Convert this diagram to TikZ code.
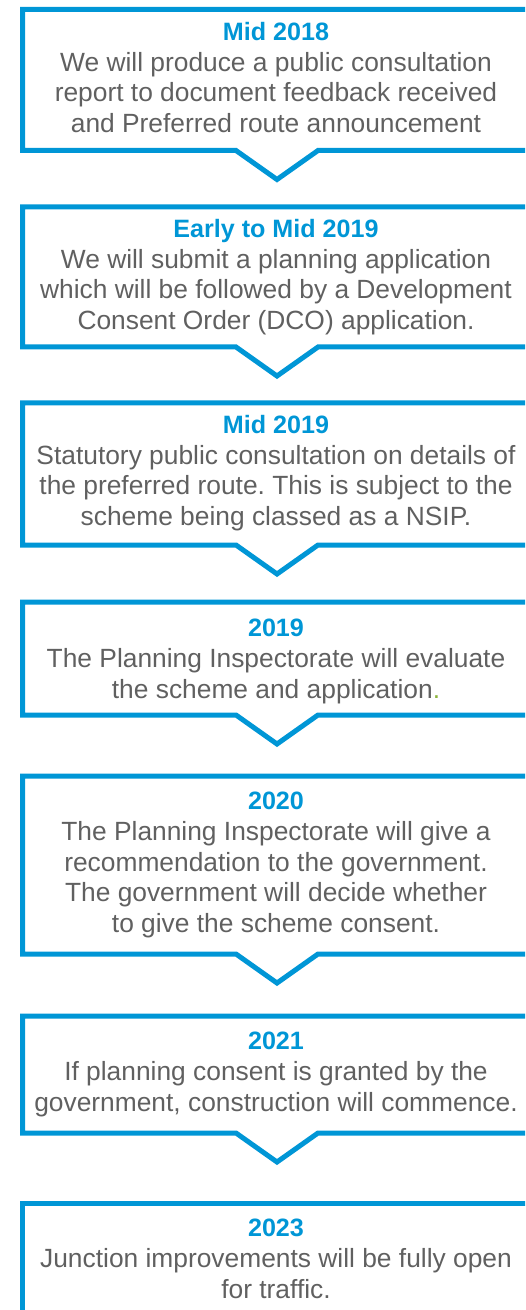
\documentclass[tikz,border=0pt]{standalone}
\usepackage{fontspec}
\setmainfont{Liberation Sans}
\frenchspacing
\definecolor{stepblue}{RGB}{0,150,214}
\definecolor{stepgray}{RGB}{96,96,96}
\definecolor{dotgreen}{RGB}{140,180,60}
\tikzset{
  stepframe/.style={draw=stepblue, line width=0.1cm, miter limit=10},
  steptext/.style={anchor=north, align=center, inner sep=0pt, text=stepgray,
    font=\fontsize{15}{17.4}\selectfont},
}
\newcommand{\steptitle}[1]{{\fontsize{14.3}{17.4}\selectfont\bfseries\color{stepblue}#1}}

\begin{document}
\begin{tikzpicture}[x=0.02cm, y=-0.02cm]
    \clip (0,0) rectangle (525,1310);
    \useasboundingbox (0,0) rectangle (525,1310);

    % Frames with the notch under each one (top/bottom)
    \foreach \ya/\yb in {9.5/150.5, 207/347, 403/545, 602/715, 776/954, 1016/1133}
        \draw[stepframe] (532,\ya) -- (22.5,\ya) -- (22.5,\yb) -- (236,\yb)
            -- (277,{\yb+29}) -- (318,\yb) -- (532,\yb) -- cycle;
    % last frame runs off the page
    \draw[stepframe] (532,1203) -- (22.5,1203) -- (22.5,1340);

    % Texts of the steps
    \node[steptext] (mid18) at (276,22) {\steptitle{Mid 2018}\\
        We will produce a public consultation\\
        report to document feedback received\\
        and Preferred route announcement};
    \node[steptext] (early19) at (276,219) {\steptitle{Early to Mid 2019}\\
        We will submit a planning application\\
        which will be followed by a Development\\
        Consent Order (DCO) application.};
    \node[steptext] (mid19) at (276,415) {\steptitle{Mid 2019}\\
        Statutory public consultation on details of\\
        the preferred route. This is subject to the\\
        scheme being classed as a NSIP.};
    \node[steptext] (y2019) at (276,619) {\steptitle{2019}\\
        The Planning Inspectorate will evaluate\\
        the scheme and application\textcolor{dotgreen}{.}};
    \node[steptext] (y2020) at (276,792) {\steptitle{2020}\\
        The Planning Inspectorate will give a\\
        recommendation to the government.\\
        The government will decide whether\\
        to give the scheme consent.};
    \node[steptext] (y2021) at (276,1032) {\steptitle{2021}\\
        If planning consent is granted by the\\
        government, construction will commence.};
    \node[steptext] (y2023) at (276,1219) {\steptitle{2023}\\
        Junction improvements will be fully open\\
        for traffic.};
\end{tikzpicture}
\end{document}
